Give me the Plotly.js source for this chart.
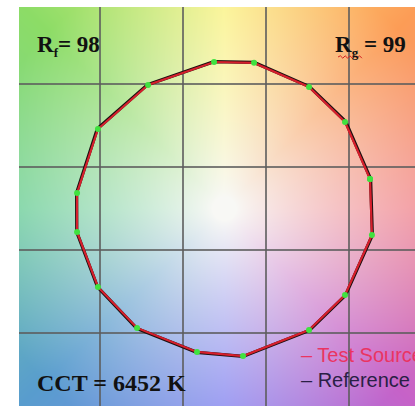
<!DOCTYPE html>
<html>
<head>
<meta charset="utf-8">
<script src="https://cdn.plot.ly/plotly-3.0.1.min.js"></script>
<style>
  html, body { margin: 0; padding: 0; background: #ffffff; overflow: hidden; }
  #chart { width: 415px; height: 406px; }
</style>
</head>
<body>
<div id="chart"></div>
<script>
// Colour vector graphic: 16 hue bins, normalized a'/b' coordinates (reference radius ~1)
const hueBins = [1, 2, 3, 4, 5, 6, 7, 8, 9, 10, 11, 12, 13, 14, 15, 16];
const testA = [0.990, 0.820, 0.575, 0.201, -0.071, -0.520, -0.861, -1.003, -1.003, -0.861, -0.595, -0.187, 0.126, 0.575, 0.820, 1.003];
const testB = [0.202, 0.590, 0.828, 0.992, 0.998, 0.842, 0.542, 0.107, -0.158, -0.532, -0.811, -0.974, -1.002, -0.825, -0.587, -0.179];
const refA  = [0.994, 0.824, 0.577, 0.202, -0.072, -0.523, -0.865, -1.006, -1.005, -0.863, -0.597, -0.188, 0.127, 0.577, 0.823, 1.006];
const refB  = [0.203, 0.593, 0.831, 0.995, 1.000, 0.844, 0.544, 0.108, -0.159, -0.534, -0.814, -0.977, -1.005, -0.828, -0.589, -0.180];

// Summary metrics
const fidelityIndex = 98;   // Rf
const gamutIndex = 99;      // Rg
const cctKelvin = 6452;

// Grid positions in a'/b' units
const gridTicks = [-0.847, -0.282, 0.282, 0.847];

const xRange = [-1.398, 1.296];
const yRange = [-1.342, 1.372];

// Hue ring used to paint the background (angle in degrees, rgb)
const ringStops = [
  [0,   [242, 138, 146]],
  [46,  [252, 156, 86]],
  [90,  [252, 244, 136]],
  [135, [140, 220, 102]],
  [180, [118, 210, 160]],
  [224, [88, 156, 206]],
  [270, [138, 138, 242]],
  [314, [198, 98, 200]],
  [360, [242, 138, 146]]
];

function ringColor(deg) {
  for (let k = 0; k < ringStops.length - 1; k++) {
    const a = ringStops[k], b = ringStops[k + 1];
    if (deg >= a[0] && deg <= b[0]) {
      const t = (deg - a[0]) / (b[0] - a[0]);
      return [0, 1, 2].map(c => a[1][c] + (b[1][c] - a[1][c]) * t);
    }
  }
  return ringStops[0][1];
}

function paintBackground() {
  const W = 396, H = 399;
  const cv = document.createElement('canvas');
  cv.width = W; cv.height = H;
  const ctx = cv.getContext('2d');
  const img = ctx.createImageData(W, H);
  const base = [248, 248, 245];
  for (let j = 0; j < H; j++) {
    const y = yRange[1] - (j + 0.5) / H * (yRange[1] - yRange[0]);
    for (let i = 0; i < W; i++) {
      const x = xRange[0] + (i + 0.5) / W * (xRange[1] - xRange[0]);
      const r = Math.hypot(x, y);
      let deg = Math.atan2(y, x) * 180 / Math.PI;
      if (deg < 0) deg += 360;
      let f = Math.min(1, Math.max(0, (r - 0.08) / 1.62));
      f = Math.pow(f, 0.85);
      const c = ringColor(deg);
      const p = (j * W + i) * 4;
      img.data[p]     = base[0] + (c[0] - base[0]) * f;
      img.data[p + 1] = base[1] + (c[1] - base[1]) * f;
      img.data[p + 2] = base[2] + (c[2] - base[2]) * f;
      img.data[p + 3] = 255;
    }
  }
  ctx.putImageData(img, 0, 0);
  return cv.toDataURL('image/png');
}

const closeLoop = arr => arr.concat([arr[0]]);

const refTrace = {
  type: 'scatter', mode: 'lines', name: 'Reference',
  x: closeLoop(refA), y: closeLoop(refB),
  line: { color: '#1a1010', width: 3.2 },
  hoverinfo: 'skip', showlegend: false
};
const testTrace = {
  type: 'scatter', mode: 'lines+markers', name: 'Test Source',
  x: closeLoop(testA), y: closeLoop(testB),
  text: closeLoop(hueBins.map(h => 'Hue bin ' + h)),
  line: { color: '#d61f2c', width: 2.2 },
  marker: { color: '#3fe23f', size: 6 },
  showlegend: false
};

const serifBold = { family: 'Liberation Serif, Times New Roman, serif', size: 23, color: '#111111', weight: 'bold' };
const sub = s => '<sub><span style="font-size:13px">' + s + '</span></sub>';

// spell-check style squiggle under the Rg label
const wave = (() => {
  const x0 = 0.8056, x1 = 0.866, yc = 0.8747, n = 10;
  let d = 'M' + x0 + ',' + yc;
  for (let k = 1; k <= n; k++) {
    const xx = x0 + (x1 - x0) * k / n;
    const yy = yc + (k % 2 ? 0.003 : -0.003);
    d += ' L' + xx.toFixed(4) + ',' + yy.toFixed(4);
  }
  return d;
})();

const layout = {
  width: 415, height: 406, autosize: false,
  margin: { l: 19, r: 0, t: 7, b: 0, pad: 0 },
  paper_bgcolor: '#ffffff',
  plot_bgcolor: 'rgba(0,0,0,0)',
  xaxis: {
    range: xRange, tickvals: gridTicks, showticklabels: false, ticks: '',
    showgrid: true, gridcolor: 'rgba(92,92,92,0.8)', gridwidth: 1.6,
    zeroline: false, showline: false, fixedrange: true
  },
  yaxis: {
    range: yRange, tickvals: gridTicks, showticklabels: false, ticks: '',
    showgrid: true, gridcolor: 'rgba(92,92,92,0.8)', gridwidth: 1.6,
    zeroline: false, showline: false, fixedrange: true
  },
  images: [{
    source: paintBackground(), xref: 'x', yref: 'y',
    x: xRange[0], y: yRange[1],
    sizex: xRange[1] - xRange[0], sizey: yRange[1] - yRange[0],
    sizing: 'stretch', layer: 'below'
  }],
  shapes: [{
    type: 'path', xref: 'paper', yref: 'paper', path: wave,
    line: { color: '#d42020', width: 1 }
  }],
  annotations: [
    { xref: 'paper', yref: 'paper', x: 0.040, y: 0.902, xanchor: 'left', yanchor: 'middle',
      text: 'R' + sub('f') + '= ' + fidelityIndex, showarrow: false, font: serifBold },
    { xref: 'paper', yref: 'paper', x: 0.982, y: 0.902, xanchor: 'right', yanchor: 'middle',
      text: 'R' + sub('g') + ' = ' + gamutIndex, showarrow: false, font: serifBold },
    { xref: 'paper', yref: 'paper', x: 0.040, y: 0.058, xanchor: 'left', yanchor: 'middle',
      text: 'CCT = ' + cctKelvin + ' K', showarrow: false,
      font: Object.assign({}, serifBold, { size: 24 }) },
    { xref: 'paper', yref: 'paper', x: 0.708, y: 0.127, xanchor: 'left', yanchor: 'middle',
      text: '– Test Source', showarrow: false,
      font: { family: 'Liberation Sans, Arial, sans-serif', size: 20, color: '#ea3462' } },
    { xref: 'paper', yref: 'paper', x: 0.708, y: 0.066, xanchor: 'left', yanchor: 'middle',
      text: '– Reference', showarrow: false,
      font: { family: 'Liberation Sans, Arial, sans-serif', size: 20, color: '#2a1f45' } }
  ]
};

Plotly.newPlot('chart', [refTrace, testTrace], layout, { displayModeBar: false, staticPlot: true });
</script>
</body>
</html>
